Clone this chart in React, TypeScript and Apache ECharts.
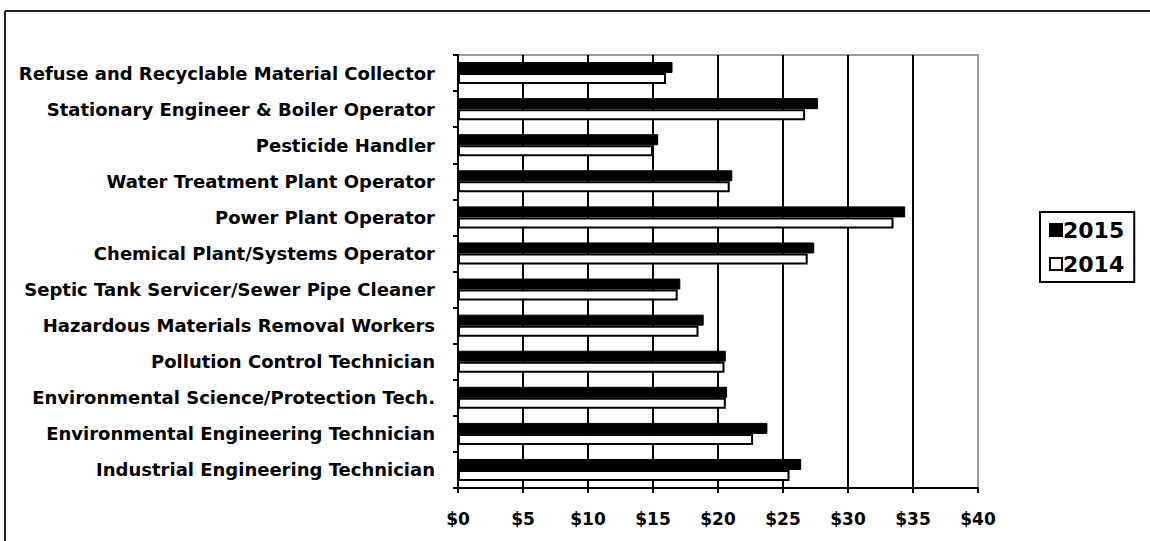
import React, { useEffect, useRef } from "react";
import * as echarts from "echarts";

const categories = [
  "Industrial Engineering Technician",
  "Environmental Engineering Technician",
  "Environmental Science/Protection Tech.",
  "Pollution Control Technician",
  "Hazardous Materials Removal Workers",
  "Septic Tank Servicer/Sewer Pipe Cleaner",
  "Chemical Plant/Systems Operator",
  "Power Plant Operator",
  "Water Treatment Plant Operator",
  "Pesticide Handler",
  "Stationary Engineer & Boiler Operator",
  "Refuse and Recyclable Material Collector",
];
const values2015 = [26.4, 23.8, 20.7, 20.6, 18.9, 17.1, 27.4, 34.4, 21.1, 15.4, 27.7, 16.5];
const values2014 = [25.5, 22.7, 20.6, 20.5, 18.5, 16.9, 26.9, 33.5, 20.9, 15.0, 26.7, 16.0];
const xTicks = [0, 5, 10, 15, 20, 25, 30, 35, 40];

const FONT = "'DejaVu Sans', sans-serif";

export default function App() {
  const ref = useRef<HTMLDivElement>(null);
  useEffect(() => {
    if (!ref.current) return;
    const chart = echarts.init(ref.current, null, { renderer: "svg" });
    chart.setOption({
      animation: false,
      backgroundColor: "#fff",
      graphic: [
        {
          type: "line",
          shape: { x1: 5, y1: 11, x2: 1150, y2: 11 },
          style: { stroke: "#222", lineWidth: 2 },
          silent: true,
        },
        {
          type: "line",
          shape: { x1: 5, y1: 11, x2: 5, y2: 541 },
          style: { stroke: "#222", lineWidth: 2 },
          silent: true,
        },
      ],
      grid: {
        left: 458,
        right: 172,
        top: 55,
        bottom: 53,
        show: true,
        borderColor: "#999",
        borderWidth: 2,
        backgroundColor: "transparent",
      },
      legend: {
        data: ["2015", "2014"],
        orient: "vertical",
        left: 1040,
        top: 212,
        icon: "rect",
        itemWidth: 12,
        itemHeight: 12,
        itemGap: 12,
        padding: [7, 10, 7, 9],
        borderColor: "#000",
        borderWidth: 2,
        textStyle: { fontFamily: FONT, fontWeight: "bold", fontSize: 22, color: "#000", padding: [0, 0, 0, -4] },
      },
      xAxis: {
        type: "value",
        min: xTicks[0],
        max: xTicks[xTicks.length - 1],
        interval: 5,
        axisLine: { show: true, lineStyle: { color: "#000", width: 2 } },
        axisTick: { show: true, length: 5, lineStyle: { color: "#000", width: 2 } },
        axisLabel: {
          margin: 22,
          fontFamily: FONT,
          fontWeight: "bold",
          fontSize: 17,
          color: "#000",
          formatter: (v: number) => "$" + v,
        },
        splitLine: { show: true, showMaxLine: false, lineStyle: { color: "#000", width: 2 } },
      },
      yAxis: {
        type: "category",
        data: categories,
        axisLine: { show: true, lineStyle: { color: "#000", width: 2 } },
        axisTick: { show: true, length: 5, lineStyle: { color: "#000", width: 2 } },
        axisLabel: {
          margin: 23,
          fontFamily: FONT,
          fontWeight: "bold",
          fontSize: 18,
          color: "#000",
        },
      },
      series: [
        {
          name: "2015",
          type: "bar",
          data: values2015,
          barWidth: 11,
          barGap: "0%",
          itemStyle: { color: "#000", borderColor: "#000", borderWidth: 1 },
        },
        {
          name: "2014",
          type: "bar",
          data: values2014,
          barWidth: 11,
          barGap: "0%",
          itemStyle: { color: "#fff", borderColor: "#000", borderWidth: 2 },
        },
      ],
    });
    return () => chart.dispose();
  }, []);
  return (
    <div
      ref={ref}
      style={{ position: "fixed", left: 0, top: 0, width: 1150, height: 541 }}
    />
  );
}
